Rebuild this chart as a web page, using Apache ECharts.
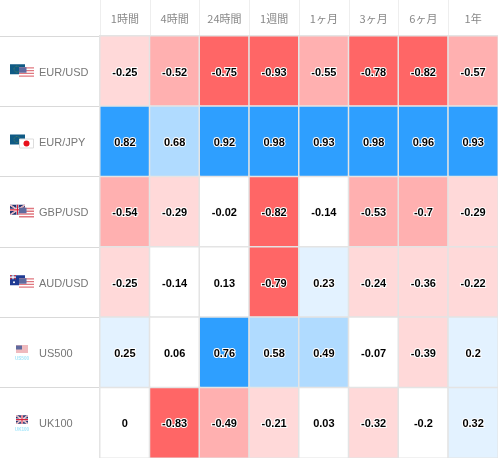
<!DOCTYPE html>
<html><head><meta charset="utf-8">
<style>html,body{margin:0;padding:0;background:#fff}#c{width:498px;height:458px}</style>
<script src="https://cdn.jsdelivr.net/npm/echarts@6/dist/echarts.min.js"></script>
</head><body><div id="c"></div>
<script>
const periods = ['1時間','4時間','24時間','1週間','1ヶ月','3ヶ月','6ヶ月','1年'];
const symbols = ['EUR/USD','EUR/JPY','GBP/USD','AUD/USD','US500','UK100'];
const eurusd = [-0.25,-0.52,-0.75,-0.93,-0.55,-0.78,-0.82,-0.57];
const eurjpy = [0.82,0.68,0.92,0.98,0.93,0.98,0.96,0.93];
const gbpusd = [-0.54,-0.29,-0.02,-0.82,-0.14,-0.53,-0.7,-0.29];
const audusd = [-0.25,-0.14,0.13,-0.79,0.23,-0.24,-0.36,-0.22];
const us500 = [0.25,0.06,0.76,0.58,0.49,-0.07,-0.39,0.2];
const uk100 = [0,-0.83,-0.49,-0.21,0.03,-0.32,-0.2,0.32];
const rows = [eurusd,eurjpy,gbpusd,audusd,us500,uk100];

const us = (x,y,w,h)=>{let s=`<rect x="${x}" y="${y}" width="${w}" height="${h}" fill="#fff"/>`;
  for(let i=0;i<4;i++)s+=`<rect x="${x}" y="${y+i*h/4}" width="${w}" height="${h/8}" fill="#e0777f"/>`;
  return s+`<rect x="${x}" y="${y}" width="${w*0.5}" height="${h*0.5}" fill="#5f6a9e"/>`;};
const eu = `<rect x="0" y="5" width="15" height="10" fill="#0f5a85"/><circle cx="7" cy="10" r="3" fill="none" stroke="#7c9a3c" stroke-width="0.6" stroke-dasharray="0.8 0.8"/>`;
const gb = (x,y,w,h)=>`<rect x="${x}" y="${y}" width="${w}" height="${h}" fill="#26336f"/><path d="M${x} ${y}L${x+w} ${y+h}M${x+w} ${y}L${x} ${y+h}" stroke="#fff" stroke-width="1.4"/><path d="M${x} ${y}L${x+w} ${y+h}M${x+w} ${y}L${x} ${y+h}" stroke="#d8404f" stroke-width="0.5"/><path d="M${x+w/2} ${y}V${y+h}M${x} ${y+h/2}H${x+w}" stroke="#fff" stroke-width="2.2"/><path d="M${x+w/2} ${y}V${y+h}M${x} ${y+h/2}H${x+w}" stroke="#d8203a" stroke-width="1.1"/>`;
const au = `<rect x="0" y="5" width="15" height="10" fill="#1f3a93"/><path d="M0 5L6 9M6 5L0 9" stroke="#e33" stroke-width="1"/><path d="M3 5V9M0 7H6" stroke="#fff" stroke-width="1.2"/><circle cx="4" cy="12" r="1" fill="#fff"/><circle cx="11" cy="9" r="0.8" fill="#fff"/><circle cx="12" cy="13" r="0.8" fill="#fff"/>`;
const tag = t=>`<text x="12" y="19.8" font-size="4.6" font-weight="bold" font-family="Liberation Sans" text-anchor="middle" fill="#a5e6fa">${t}</text>`;
const jp = `<rect x="9.5" y="9.5" width="14" height="9" fill="#fff" stroke="#ddd"/><circle cx="16.5" cy="14" r="3" fill="#e8101c"/>`;
const flags = [
  eu+us(9,8,15,11), eu+jp, gb(0,5,15,10)+us(9,8,15,11), au+us(9,8,15,11),
  us(6,5,12,8)+tag('US500'), gb(6,4.5,12,8.5)+tag('UK100')
];
const uri = s=>'data:image/svg+xml;charset=utf-8,'+encodeURIComponent(`<svg xmlns="http://www.w3.org/2000/svg" width="29" height="24" viewBox="0 0 29 24">${s}</svg>`);
const rich = {name:{color:'#777',fontSize:11,fontFamily:'Liberation Sans',padding:[3,0,0,0]}};
flags.forEach((f,i)=>{rich['f'+i]={width:29,height:24,backgroundColor:{image:uri(f)}};});

const data=[];
rows.forEach((r,y)=>r.forEach((v,x)=>data.push([x,y,v])));

const chart = echarts.init(document.getElementById('c'),null,{renderer:'canvas'});
chart.setOption({
  animation:false,
  backgroundColor:'#fff',
  grid:{left:100,right:-1,top:36,bottom:-1},
  xAxis:{type:'category',position:'top',data:periods,
    axisLine:{show:false},
    axisTick:{show:true,length:36,lineStyle:{color:'#eee',width:1}},
    axisLabel:{color:'#888',fontSize:11,margin:12,fontFamily:'"Noto Sans CJK JP","Liberation Sans"',interval:0},
    splitLine:{show:false}},
  yAxis:{type:'category',inverse:true,data:symbols,
    axisLine:{show:false},
    axisTick:{show:true,length:100,lineStyle:{color:'#d9d9d9',width:1}},
    axisLabel:{interval:0,align:'left',margin:90,rich,
      formatter:(v,i)=>`{f${i}|}{name|${v}}`},
    splitLine:{show:false}},
  visualMap:{show:false,type:'piecewise',dimension:2,seriesIndex:0,
    pieces:[
      {lte:-0.75,color:'#ff6666'},
      {gt:-0.75,lte:-0.49,color:'#ffb0b0'},
      {gt:-0.49,lt:-0.2,color:'#ffd9d9'},
      {gte:-0.2,lt:0.2,color:'#ffffff'},
      {gte:0.2,lt:0.49,color:'#e3f2ff'},
      {gte:0.49,lt:0.75,color:'#b0dbff'},
      {gte:0.75,color:'#2e9fff'}
    ]},
  series:[{type:'heatmap',data,
    itemStyle:{borderColor:'#e4e4e4',borderWidth:1.5},
    label:{show:true,color:'#000',fontSize:11,fontWeight:'bold',fontFamily:'Liberation Sans',offset:[0,1.5],
      textBorderColor:'#fff',textBorderWidth:2,formatter:p=>String(p.value[2])},
    emphasis:{disabled:true}}]
});
</script></body></html>
